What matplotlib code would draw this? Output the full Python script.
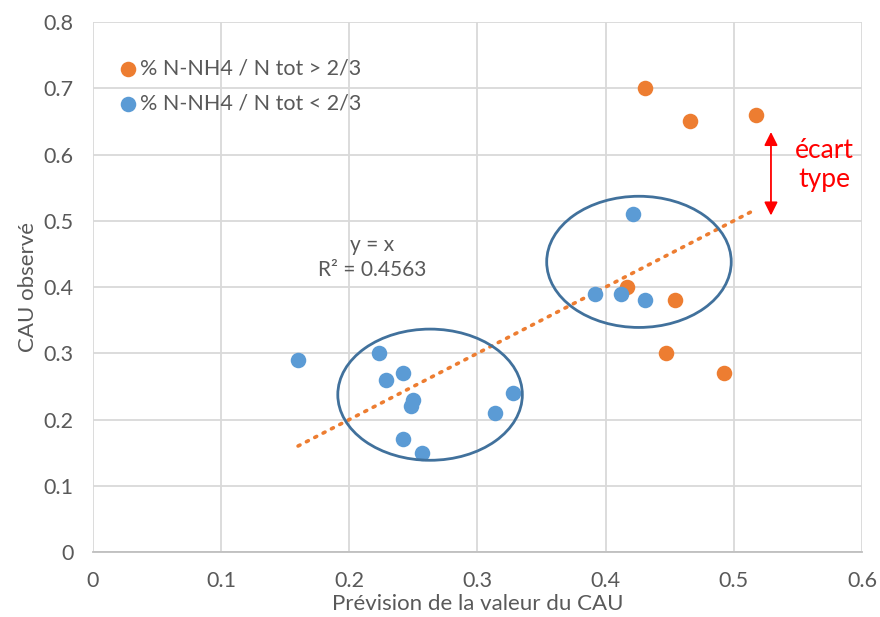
import matplotlib
matplotlib.use("Agg")
import matplotlib.pyplot as plt
from matplotlib.patches import Ellipse
import numpy as np

plt.rcParams['font.family'] = ['Lato', 'DejaVu Sans']

# % N-NH4 / N tot > 2/3
x_high = [0.431, 0.466, 0.517, 0.417, 0.454, 0.447, 0.492]
y_high = [0.70, 0.65, 0.66, 0.40, 0.38, 0.30, 0.27]
# % N-NH4 / N tot < 2/3
x_low = [0.421, 0.392, 0.412, 0.431,
         0.160, 0.223, 0.229, 0.242, 0.250, 0.248, 0.314, 0.328, 0.242, 0.257]
y_low = [0.51, 0.39, 0.39, 0.38,
         0.29, 0.30, 0.26, 0.27, 0.23, 0.22, 0.21, 0.24, 0.17, 0.15]

label_high = "% N-NH4 / N tot > 2/3"
label_low = "% N-NH4 / N tot < 2/3"
xticks = [0, 0.1, 0.2, 0.3, 0.4, 0.5, 0.6]
yticks = [0, 0.1, 0.2, 0.3, 0.4, 0.5, 0.6, 0.7, 0.8]

orange = "#ED7D31"
blue = "#5B9BD5"
grey = "#595959"

fig = plt.figure(figsize=(8.8, 6.17), dpi=100)
ax = fig.add_axes([0.1057, 0.1053, 0.8738, 0.859])

ax.scatter(x_high, y_high, s=125, color=orange, label=label_high, zorder=3, linewidths=0)
ax.scatter(x_low, y_low, s=125, color=blue, label=label_low, zorder=3, linewidths=0)

# trend line y = x over the data range
all_x = np.array(x_high + x_low)
tx = np.array([all_x.min(), all_x.max()])
ax.plot(tx, tx, color=orange, linestyle=(0, (0.6, 2.0)), linewidth=2.6,
        dash_capstyle="round", zorder=2)

ax.text(0.218, 0.445, "y = x\nR² = 0.4563", ha="center", va="center",
        fontsize=15, color=grey, linespacing=1.3)

# clusters
for cx, cy in [(0.263, 0.2375), (0.426, 0.438)]:
    ax.add_patch(Ellipse((cx, cy), 0.144, 0.198, fill=False,
                         edgecolor="#41719C", linewidth=2, zorder=4))

# standard deviation arrow
ax.annotate("", xy=(0.529, 0.508), xytext=(0.529, 0.634),
            arrowprops=dict(arrowstyle="<|-|>", color="red", lw=1.3,
                            mutation_scale=20, shrinkA=0, shrinkB=0))
ax.text(0.571, 0.584, "écart\ntype", color="red", fontsize=19,
        ha="center", va="center", linespacing=1.2)

ax.set_xlim(0, 0.6)
ax.set_ylim(0, 0.8)
ax.set_xticks(xticks)
ax.set_yticks(yticks)
ax.set_xticklabels([f"{v:g}" for v in xticks])
ax.set_yticklabels([f"{v:g}" for v in yticks])
ax.tick_params(length=0, labelsize=15.5, colors=grey)
ax.tick_params(axis="x", pad=14)
ax.tick_params(axis="y", pad=14)
ax.grid(True, color="#D9D9D9", linewidth=1.3)
ax.set_axisbelow(True)
for side in ["top", "right", "left"]:
    ax.spines[side].set_visible(False)
ax.spines["bottom"].set_color("#BFBFBF")
ax.spines["bottom"].set_linewidth(1.3)

ax.set_xlabel("Prévision de la valeur du CAU", fontsize=16, color=grey, labelpad=2)
ax.set_ylabel("CAU observé", fontsize=16, color=grey, labelpad=4)

ax.legend(loc="upper left", bbox_to_anchor=(0.02, 0.948), frameon=False,
          fontsize=15.5, labelcolor=grey, handletextpad=0.05, handlelength=1.0,
          borderaxespad=0, labelspacing=0.72)

fig.savefig("out.png", dpi=100)
